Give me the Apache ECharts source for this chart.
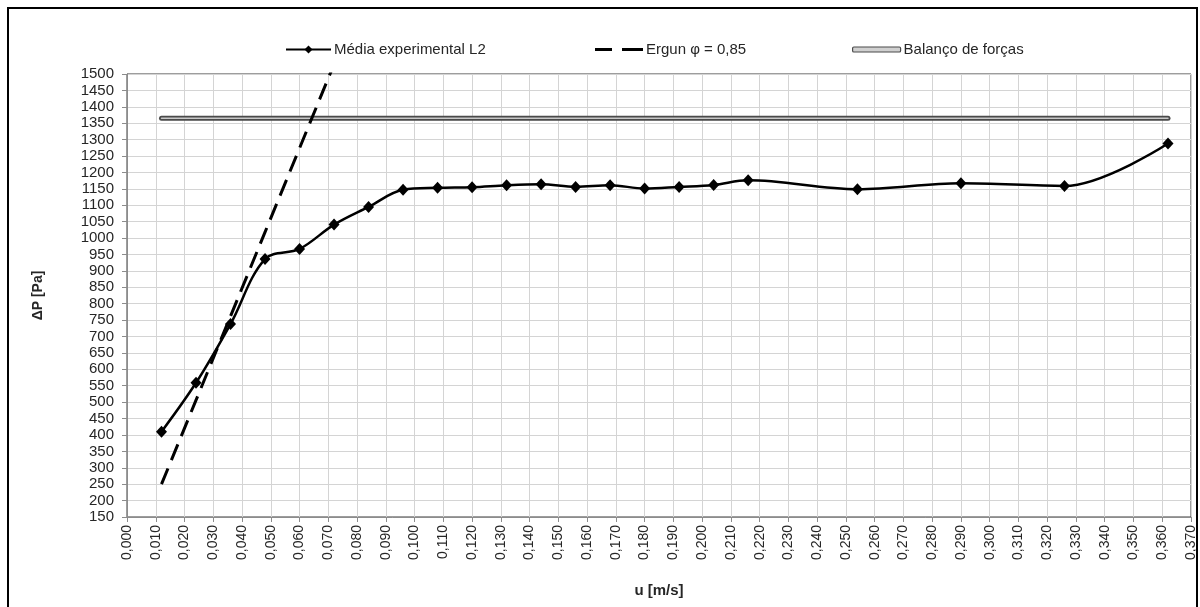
<!DOCTYPE html>
<html>
<head>
<meta charset="utf-8">
<script src="https://cdn.jsdelivr.net/npm/echarts@6/dist/echarts.min.js"></script>
<style>
  html, body { margin: 0; padding: 0; background: #ffffff; }
  #chart { width: 1200px; height: 607px; }
</style>
</head>
<body>
<div id="chart"></div>
<script>
// Superficial velocity u [m/s] and pressure drop ΔP [Pa]
const uExp = [0.012, 0.024, 0.036, 0.048, 0.060, 0.072, 0.084, 0.096, 0.108, 0.120, 0.132,
              0.144, 0.156, 0.168, 0.180, 0.192, 0.204, 0.216, 0.254, 0.290, 0.326, 0.362];
const dpExp = [410, 559, 738, 936, 967, 1041, 1095, 1147, 1153, 1155, 1161,
               1164, 1156, 1161, 1151, 1156, 1162, 1176, 1149, 1167, 1159, 1288];

// Ergun prediction (sphericity 0,85)
const uErgun = [0.012, 0.024, 0.036, 0.048, 0.060, 0.072];
const dpErgun = [250, 506, 762, 1018, 1274, 1530];

// Force balance (constant ΔP)
const uForce = [0.012, 0.362];
const dpForce = [1365, 1365];

const seriesNames = ['Média experimental L2', 'Ergun φ = 0,85', 'Balanço de forças'];

// Axis ranges and tick steps
const xRange = { min: 0, max: 0.37, step: 0.01 };
const yRange = { min: 150, max: 1500, step: 50 };

const FONT = '"Liberation Sans", Arial, sans-serif';
const TEXT = '#262626';

const pairs = (xs, ys) => xs.map((x, i) => [x, ys[i]]);

const chart = echarts.init(document.getElementById('chart'), null, { renderer: 'canvas' });

const legendBase = {
  top: 37,
  itemWidth: 45,
  itemHeight: 10,
  itemGap: 0,
  textStyle: { fontFamily: FONT, fontSize: 15, color: TEXT, padding: [0, 0, 0, -2] },
  selectedMode: false
};

chart.setOption({
  animation: false,
  backgroundColor: '#ffffff',
  grid: {
    left: 127, right: 9, top: 74, bottom: 90,
    show: true, borderColor: '#3a3a3a', borderWidth: 1, backgroundColor: 'transparent'
  },
  legend: [
    Object.assign({}, legendBase, { left: 280, data: [seriesNames[0]] }),
    Object.assign({}, legendBase, {
      left: 590, itemWidth: 48, itemHeight: 3,
      data: [{
        name: seriesNames[1],
        // two long dashes, as the series line
        icon: 'path://M0 0H17V3H0Z M27 0H48V3H27Z',
        itemStyle: { color: '#000000' }
      }]
    }),
    Object.assign({}, legendBase, {
      left: 847, itemWidth: 48, itemHeight: 5,
      data: [{
        name: seriesNames[2], icon: 'roundRect',
        itemStyle: { color: '#d0d0d0', borderColor: '#4a4a4a', borderWidth: 1.2 }
      }]
    })
  ],
  xAxis: {
    type: 'value',
    min: xRange.min, max: xRange.max, interval: xRange.step,
    name: 'u [m/s]', nameLocation: 'middle', nameGap: 66,
    nameTextStyle: { fontFamily: FONT, fontSize: 15, fontWeight: 'bold', color: TEXT },
    axisLine: { show: true, onZero: false, lineStyle: { color: '#8c8c8c', width: 1 } },
    axisTick: { show: true, inside: false, length: 5, lineStyle: { color: '#8c8c8c' } },
    axisLabel: {
      rotate: 90, margin: 8, fontFamily: FONT, fontSize: 14, color: TEXT,
      formatter: v => v.toFixed(3).replace('.', ',')
    },
    splitLine: { show: true, lineStyle: { color: '#d4d4d4', width: 1 } }
  },
  yAxis: {
    type: 'value',
    min: yRange.min, max: yRange.max, interval: yRange.step,
    name: 'ΔP [Pa]', nameLocation: 'middle', nameGap: 82, nameRotate: 90,
    nameTextStyle: { fontFamily: FONT, fontSize: 14, fontWeight: 'bold', color: TEXT },
    axisLine: { show: true, lineStyle: { color: '#8c8c8c', width: 1 } },
    axisTick: { show: true, inside: false, length: 5, lineStyle: { color: '#8c8c8c' } },
    axisLabel: {
      margin: 13, fontFamily: FONT, fontSize: 15, color: TEXT,
      formatter: v => String(Math.round(v))
    },
    splitLine: { show: true, lineStyle: { color: '#d4d4d4', width: 1 } }
  },
  series: [
    {
      name: seriesNames[0],
      type: 'line',
      data: pairs(uExp, dpExp),
      smooth: 0.35,
      symbol: 'diamond',
      symbolSize: [11, 12],
      itemStyle: { color: '#000000' },
      lineStyle: { color: '#000000', width: 2.5 },
      z: 5
    },
    {
      name: seriesNames[1],
      type: 'line',
      data: pairs(uErgun, dpErgun),
      symbol: 'none',
      clip: true,
      itemStyle: { color: '#000000' },
      lineStyle: { color: '#000000', width: 3, type: [17, 9] },
      z: 4
    },
    {
      name: seriesNames[2],
      type: 'line',
      data: pairs(uForce, dpForce),
      symbol: 'none',
      itemStyle: { color: '#4a4a4a' },
      lineStyle: { color: '#4a4a4a', width: 5, cap: 'round' },
      z: 3
    },
    {
      name: seriesNames[2],
      type: 'line',
      data: pairs(uForce, dpForce),
      symbol: 'none',
      itemStyle: { color: '#c8c8c8' },
      lineStyle: { color: '#c8c8c8', width: 1.5, cap: 'round' },
      z: 3.5
    }
  ],
  graphic: [{
    type: 'rect',
    shape: { x: 8, y: 8, width: 1189, height: 602 },
    style: { fill: null, stroke: '#000000', lineWidth: 2 },
    silent: true,
    z: 100
  }]
});
</script>
</body>
</html>
